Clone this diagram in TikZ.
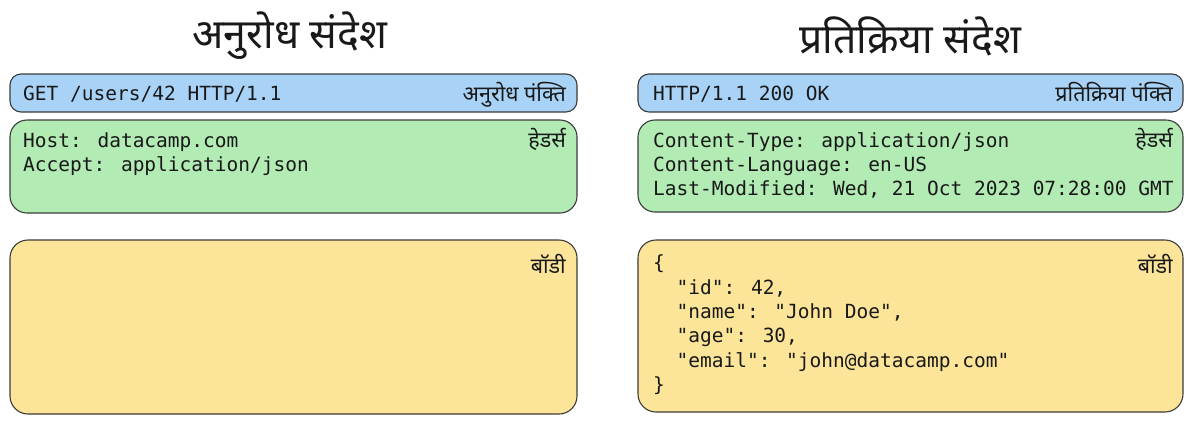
\documentclass[tikz,border=0pt]{standalone}
\usepackage{fontspec}
\newfontfamily\deva[Script=Devanagari]{Noto Sans}
\newfontfamily\monof{DejaVu Sans Mono}
\definecolor{bluefill}{RGB}{168,210,246}
\definecolor{greenfill}{RGB}{178,235,180}
\definecolor{yellowfill}{RGB}{252,229,152}
\definecolor{edge}{RGB}{60,60,60}
\tikzset{
  box/.style={draw=edge, line width=1.1pt, inner sep=0pt},
  bluebox/.style={box, fill=bluefill, rounded corners=11pt},
  greenbox/.style={box, fill=greenfill, rounded corners=17pt},
  yellowbox/.style={box, fill=yellowfill, rounded corners=18pt},
  code/.style={anchor=base west, inner sep=0pt, font=\monof\fontsize{19.5}{23}\selectfont, text=black!90},
  tag/.style={anchor=base east, inner sep=0pt, font=\deva\fontsize{21.5}{26}\selectfont, text=black!90},
  heading/.style={anchor=center, inner sep=0pt, font=\deva\fontsize{41}{48}\selectfont, text=black!90},
}
\begin{document}
\begin{tikzpicture}[x=1pt,y=-1pt]
\useasboundingbox[fill=white] (0,0) rectangle (1194,424);
% titles
\node[heading] (t1) at (290,36) {अनुरोध संदेश};
\node[heading] (t2) at (910,36) {प्रतिक्रिया संदेश};
% left boxes
\node[bluebox, minimum width=567pt, minimum height=38pt] (lb) at (293.5,93) {};
\node[greenbox, minimum width=567pt, minimum height=93pt] (lg) at (293.5,166.5) {};
\node[yellowbox, minimum width=567pt, minimum height=174pt] (ly) at (293.5,327) {};
% right boxes
\node[bluebox, minimum width=545pt, minimum height=38pt] (rb) at (910.5,93) {};
\node[greenbox, minimum width=545pt, minimum height=92pt] (rg) at (910.5,166) {};
\node[yellowbox, minimum width=545pt, minimum height=172pt] (ry) at (910.5,326) {};
% left texts
\node[code] (l1) at (23,100) {GET /users/42 HTTP/1.1};
\node[tag] (l1t) at (566,101) {अनुरोध पंक्ति};
\node[code] (l2) at (23,147) {Host: datacamp.com};
\node[code] (l3) at (23,171) {Accept: application/json};
\node[tag] (l2t) at (566,147) {हेडर्स};
\node[tag] (l3t) at (566,273) {बॉडी};
% right texts
\node[code] (r1) at (653,100) {HTTP/1.1 200 OK};
\node[tag] (r1t) at (1173,101) {प्रतिक्रिया पंक्ति};
\node[code] (r2) at (653,147) {Content-Type: application/json};
\node[code] (r3) at (653,171) {Content-Language: en-US};
\node[code] (r4) at (653,195) {Last-Modified: Wed, 21 Oct 2023 07:28:00 GMT};
\node[tag] (r2t) at (1173,147) {हेडर्स};
\node[tag] (r3t) at (1173,273) {बॉडी};
\node[code] (j1) at (653,269.5) {\{};
\node[code] (j2) at (653,294) {\ \ "id": 42,};
\node[code] (j3) at (653,318.4) {\ \ "name": "John Doe",};
\node[code] (j4) at (653,342.8) {\ \ "age": 30,};
\node[code] (j5) at (653,367.2) {\ \ "email": "john@datacamp.com"};
\node[code] (j6) at (653,391.6) {\}};
\end{tikzpicture}
\end{document}
